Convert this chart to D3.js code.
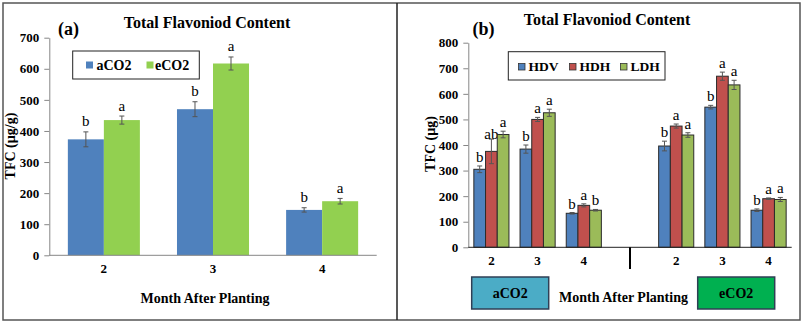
<!DOCTYPE html>
<html>
<head>
<meta charset="utf-8">
<script src="https://cdn.jsdelivr.net/npm/d3@7"></script>
<style>
  body { margin: 0; background: #fff; }
</style>
</head>
<body>
<svg id="chart" width="804" height="323"></svg>
<script>
// Panel (a) data: TFC (µg/g) by month after planting
const monthsA = ['2', '3', '4'];
const treatA = ['aCO2', 'eCO2'];
const aCO2Mean = [373, 470, 146];
const aCO2Err = [24, 24, 7];
const aCO2Letter = ['b', 'b', 'b'];
const eCO2Mean = [435, 617, 174];
const eCO2Err = [13, 21, 9];
const eCO2Letter = ['a', 'a', 'a'];
const yTicksA = [0, 100, 200, 300, 400, 500, 600, 700];

// Panel (b) data: TFC (µg) per cultivar, aCO2 months then eCO2 months
const groupsB = ['a2', 'a3', 'a4', 'gap', 'e2', 'e3', 'e4'];
const groupLabelsB = ['2', '3', '4', '', '2', '3', '4'];
const cultivars = ['HDV', 'HDH', 'LDH'];
const hdvMean = [305, 384, 133, null, 396, 548, 145];
const hdvErr = [13, 16, 3, null, 19, 7, 5];
const hdvLetter = ['b', 'b', 'b', null, 'b', 'b', 'b'];
const hdhMean = [375, 500, 164, null, 474, 669, 190];
const hdhErr = [48, 8, 6, null, 8, 16, 3];
const hdhLetter = ['ab', 'a', 'a', null, 'a', 'a', 'a'];
const ldhMean = [441, 526, 145, null, 439, 635, 187];
const ldhErr = [13, 14, 3, null, 9, 18, 8];
const ldhLetter = ['a', 'a', 'b', null, 'a', 'a', 'a'];
const yTicksB = [0, 100, 200, 300, 400, 500, 600, 700, 800];

const FONT = 'Liberation Serif, Times New Roman, serif';
const svg = d3.select('#chart').attr('font-family', FONT);
const AXIS = '#868686', ERR = '#555';

// outer frame and divider
svg.append('rect').attr('x', 3).attr('y', 3).attr('width', 797).attr('height', 317)
  .attr('fill', 'none').attr('stroke', '#555').attr('stroke-width', 1.5);
svg.append('line').attr('x1', 397).attr('x2', 397).attr('y1', 3).attr('y2', 320)
  .attr('stroke', '#222').attr('stroke-width', 1.5);

function label(x, y, txt, size, bold, anchor) {
  return svg.append('text').attr('x', x).attr('y', y)
    .attr('text-anchor', anchor || 'start')
    .attr('font-family', FONT)
    .attr('font-size', size)
    .attr('font-weight', bold ? 'bold' : 'normal')
    .attr('fill', '#000')
    .text(txt);
}

function yAxisDraw(y, x0, ticks) {
  const g = svg.append('g').attr('transform', `translate(${x0},0)`)
    .call(d3.axisLeft(y).tickValues(ticks).tickSize(5).tickSizeOuter(0).tickPadding(5));
  g.attr('font-family', FONT);
  g.select('.domain').attr('stroke', AXIS);
  g.selectAll('.tick line').attr('stroke', AXIS);
  g.selectAll('.tick text').attr('font-size', 13).attr('font-weight', 'bold')
    .attr('font-family', FONT).attr('fill', '#000');
}

function errBars(y, x, w, mean, err, color) {
  const cx = x + w / 2;
  svg.append('line').attr('x1', cx).attr('x2', cx)
    .attr('y1', y(mean + err)).attr('y2', y(mean - err)).attr('stroke', color).attr('stroke-width', 1);
  [mean + err, mean - err].forEach(v => {
    svg.append('line').attr('x1', cx - 2.5).attr('x2', cx + 2.5)
      .attr('y1', y(v)).attr('y2', y(v)).attr('stroke', color).attr('stroke-width', 1);
  });
}

// ---------- Panel (a) ----------
const yA = d3.scaleLinear().domain([0, 700]).range([255.3, 37.7]);
const xA = d3.scaleBand().domain(monthsA).range([49.3, 376.7]);
const xSubA = d3.scaleBand().domain(treatA).range([xA.bandwidth() * 0.17, xA.bandwidth() * 0.83]);
const colorA = { aCO2: '#4F81BD', eCO2: '#92D050' };

label(207, 28, 'Total Flavoniod Content', 16, true, 'middle');
label(58, 35, '(a)', 18, true);

const seriesA = [
  { key: 'aCO2', mean: aCO2Mean, err: aCO2Err, letter: aCO2Letter },
  { key: 'eCO2', mean: eCO2Mean, err: eCO2Err, letter: eCO2Letter }
];
seriesA.forEach(s => {
  monthsA.forEach((m, i) => {
    const x = xA(m) + xSubA(s.key), w = xSubA.bandwidth();
    svg.append('rect').attr('x', x).attr('y', yA(s.mean[i])).attr('width', w)
      .attr('height', yA(0) - yA(s.mean[i])).attr('fill', colorA[s.key]);
    errBars(yA, x, w, s.mean[i], s.err[i], ERR);
    label(x + w / 2, yA(s.mean[i] + s.err[i]) - 5.5, s.letter[i], 15, false, 'middle');
  });
});

yAxisDraw(yA, 49.3, yTicksA);
svg.append('line').attr('x1', 49.3).attr('x2', 376.7).attr('y1', yA(0)).attr('y2', yA(0))
  .attr('stroke', AXIS);
monthsA.forEach(m => label(xA(m) + xA.bandwidth() / 2, 273, m, 13, true, 'middle'));
label(205, 303, 'Month After Planting', 14, true, 'middle');
label(0, 0, 'TFC (µg/g)', 14, true, 'middle').attr('transform', 'translate(14.5,146) rotate(-90)');

// legend (a)
svg.append('rect').attr('x', 72.7).attr('y', 51).attr('width', 126.6).attr('height', 28)
  .attr('fill', '#fff').attr('stroke', '#222').attr('stroke-width', 1);
[['aCO2', 86, 96.5], ['eCO2', 146.5, 155]].forEach(([k, sx, tx]) => {
  svg.append('rect').attr('x', sx).attr('y', 61.5).attr('width', 7).attr('height', 7).attr('fill', colorA[k]);
  label(tx, 69.5, k, 14, true);
});

// ---------- Panel (b) ----------
const yB = d3.scaleLinear().domain([0, 800]).range([247.3, 42.7]);
const xB = d3.scaleBand().domain(groupsB).range([468.3, 791.7]);
const xSubB = d3.scaleBand().domain(cultivars).range([xB.bandwidth() * 0.12, xB.bandwidth() * 0.88]);
const colorB = { HDV: '#4F81BD', HDH: '#C0504D', LDH: '#9BBB59' };

label(607, 24.5, 'Total Flavoniod Content', 16, true, 'middle');
label(472.5, 35, '(b)', 18, true);

const seriesB = [
  { key: 'HDV', mean: hdvMean, err: hdvErr, letter: hdvLetter },
  { key: 'HDH', mean: hdhMean, err: hdhErr, letter: hdhLetter },
  { key: 'LDH', mean: ldhMean, err: ldhErr, letter: ldhLetter }
];
seriesB.forEach(s => {
  groupsB.forEach((g, i) => {
    if (s.mean[i] == null) return;
    const x = xB(g) + xSubB(s.key), w = xSubB.bandwidth();
    svg.append('rect').attr('x', x).attr('y', yB(s.mean[i])).attr('width', w)
      .attr('height', yB(0) - yB(s.mean[i])).attr('fill', colorB[s.key])
      .attr('stroke', '#2b2b2b').attr('stroke-width', 1);
    errBars(yB, x, w, s.mean[i], s.err[i], ERR);
    const ly = Math.max(yB(s.mean[i] + s.err[i]) - 4, yB(s.mean[i]) - 12);
    label(x + w / 2, ly, s.letter[i], 15, false, 'middle');
  });
});

yAxisDraw(yB, 468.3, yTicksB);
svg.append('line').attr('x1', 468.3).attr('x2', 791.7).attr('y1', yB(0)).attr('y2', yB(0))
  .attr('stroke', '#222').attr('stroke-width', 1);
groupsB.forEach((g, i) => {
  const cx = xB(g) + xB.bandwidth() / 2;
  if (g === 'gap') {
    svg.append('line').attr('x1', cx).attr('x2', cx).attr('y1', yB(0)).attr('y2', 269)
      .attr('stroke', '#000').attr('stroke-width', 2);
    return;
  }
  label(cx, 265, groupLabelsB[i], 13, true, 'middle');
});
label(0, 0, 'TFC (µg)', 14, true, 'middle').attr('transform', 'translate(434.5,144) rotate(-90)');

// legend (b)
svg.append('rect').attr('x', 508.3).attr('y', 51.7).attr('width', 156.7).attr('height', 28.3)
  .attr('fill', '#fff').attr('stroke', '#222').attr('stroke-width', 1);
[['HDV', 518.5], ['HDH', 569.5], ['LDH', 620.5]].forEach(([k, sx]) => {
  svg.append('rect').attr('x', sx).attr('y', 63.5).attr('width', 6.5).attr('height', 6.5)
    .attr('fill', colorB[k]).attr('stroke', '#333').attr('stroke-width', 0.8);
  label(sx + 10, 71, k, 13.5, true);
});

// treatment boxes under axis
[['aCO2', 471.7, '#4BACC6'], ['eCO2', 697.7, '#00B050']].forEach(([k, x, c]) => {
  svg.append('rect').attr('x', x).attr('y', 277).attr('width', 77).attr('height', 32)
    .attr('fill', c).attr('stroke', '#2f3f55').attr('stroke-width', 1.5);
  label(x + 38.5, 297.5, k, 14, true, 'middle');
});
label(623.5, 302, 'Month After Planting', 14, true, 'middle');
</script>
</body>
</html>
